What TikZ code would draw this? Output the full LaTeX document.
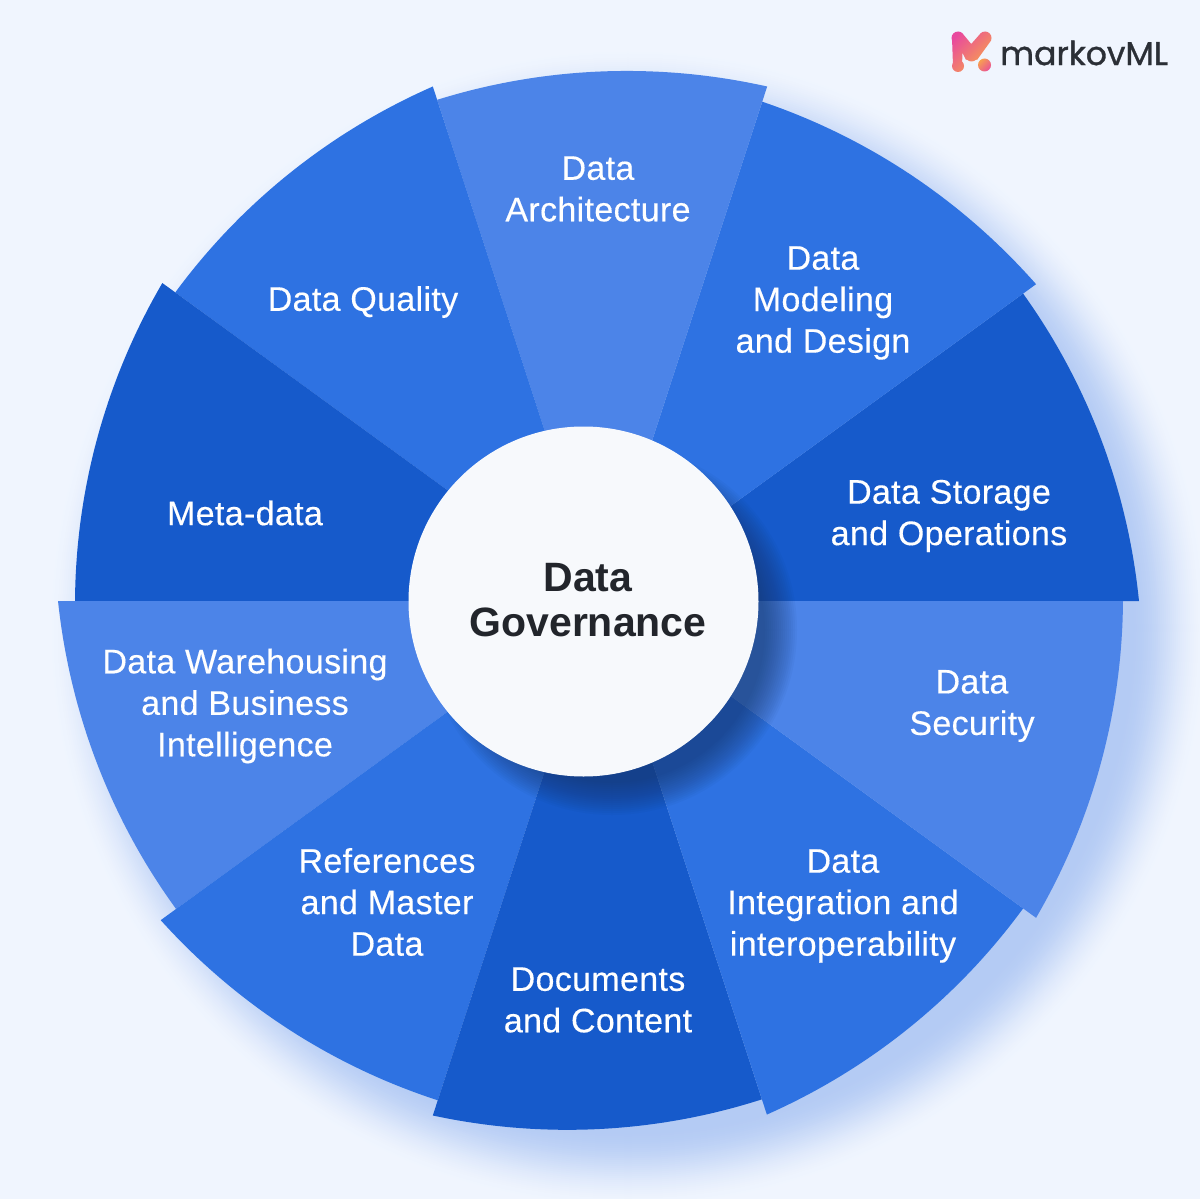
\documentclass[tikz,border=0pt]{standalone}
\usepackage{fontspec}
\setmainfont{Liberation Sans}
\newfontfamily\logofont{Poppins}[FakeBold=1.0]
\newfontfamily\labelfont{Liberation Sans}[FakeBold=0.3,LetterSpace=1.0]
\definecolor{bgblue}{HTML}{F0F5FE}
\definecolor{shadowblue}{HTML}{B4CBF4}
\definecolor{lightseg}{HTML}{4C84E8}
\definecolor{midseg}{HTML}{2E72E2}
\definecolor{darkseg}{HTML}{165ACB}
\definecolor{hubfill}{HTML}{F7F9FC}
\definecolor{titleink}{HTML}{22252B}
\definecolor{logoink}{HTML}{2B2F36}
\definecolor{logopink}{HTML}{E8489E}
\definecolor{logoorange}{HTML}{F9A948}
\definecolor{hubshadow}{HTML}{14315F}
\tikzset{
  seglabel/.style={text=white,align=center,inner sep=0pt,font=\fontsize{34}{41.5}\selectfont\labelfont},
  hubtitle/.style={text=titleink,align=center,inner sep=0pt,font=\fontsize{41}{45}\selectfont\bfseries},
  logotext/.style={text=logoink,anchor=west,inner sep=0pt,font=\fontsize{33}{36}\selectfont\logofont}
}
\begin{document}
\begin{tikzpicture}[x=1pt,y=-1pt]
\useasboundingbox (0,0) rectangle (1200,1199);
\fill[bgblue] (0,0) rectangle (1200,1199);
% wheel shadow
\foreach \i in {0,...,40}{
  \pgfmathsetmacro{\mixv}{100*(1-cos(\i*4.5))/2}
  \pgfmathsetmacro{\rad}{582-2*\i}
  \fill[shadowblue!\mixv!bgblue] (628,628) circle (\rad);
}
% segments: start angle, colour, radius at start, radius at end
\foreach \aa/\col/\ra/\rb in {
  0/darkseg/539/523,
  36/midseg/539/525,
  72/lightseg/541/527,
  108/midseg/541/525,
  144/darkseg/541/525,
  180/lightseg/542/524,
  216/midseg/543/525,
  252/darkseg/541/524,
  288/midseg/540/523,
  324/lightseg/539/523}{
  \pgfmathsetmacro{\ab}{\aa+36}
  \fill[\col] (600,601) -- plot[domain=\aa:\ab,samples=50,variable=\t]
    ({600+(\ra+(\rb-\ra)*(\t-\aa)/36-18*(\t-\aa)/36*(1-(\t-\aa)/36))*cos(\t)},
     {601-(\ra+(\rb-\ra)*(\t-\aa)/36-18*(\t-\aa)/36*(1-(\t-\aa)/36))*sin(\t)}) -- cycle;
}
% hub shadow
\foreach \i in {0,...,16}{
  \pgfmathsetmacro{\rad}{185-2*\i}
  \fill[hubshadow,opacity=0.045] (612,630) circle (\rad);
}
\node[circle,fill=hubfill,minimum size=350pt,inner sep=0pt] (hub) at (583.5,601.5) {};
\node[hubtitle] (title) at (588,600) {Data\\Governance};
% labels
\node[seglabel] (arch) at (598,189) {Data\\Architecture};
\node[seglabel] (model) at (823,303) {Data\\Modeling\\and Design};
\node[seglabel] (store) at (949,516) {Data Storage\\and Operations};
\node[seglabel] (secu) at (972,706) {Data\\Security};
\node[seglabel] (integ) at (843,906) {Data\\Integration and\\interoperability};
\node[seglabel] (docs) at (598,1000) {Documents\\and Content};
\node[seglabel] (refs) at (387,902) {References\\and Master\\Data};
\node[seglabel] (ware) at (245,706) {Data Warehousing\\and Business\\Intelligence};
\node[seglabel] (meta) at (245,513) {Meta-data};
\node[seglabel] (qual) at (363,302) {Data Quality};
% logo
\begin{scope}
  \clip (958,38) circle (6.5) (985,38) circle (6.5) (971.5,55) circle (6.5) (958,66) circle (6)
    (952,38) -- (963,38) -- (962,66) -- (953,66) -- cycle
    (953,34) -- (963,34) -- (977,51) -- (966,60) -- cycle
    (980,34) -- (990,42) -- (977,60) -- (966,50) -- cycle;
  \shade[top color=logopink,middle color=logoorange,bottom color=logoorange,shading angle=45] (950,28) rectangle (994,74);
\end{scope}
\begin{scope}
  \clip (984.5,65) circle (6.5);
  \shade[top color=logoorange,bottom color=logopink,shading angle=45] (976,57) rectangle (993,73);
\end{scope}
\node[logotext] (logoword) at (1000,53) {markovML};
\end{tikzpicture}
\end{document}
